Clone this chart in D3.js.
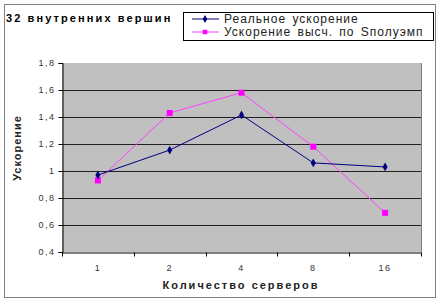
<!DOCTYPE html>
<html>
<head>
<meta charset="utf-8">
<script src="https://cdn.jsdelivr.net/npm/d3@7"></script>
<style>
  body { margin: 0; background: #fff; }
  text { font-family: Arial, "Liberation Sans", sans-serif; }
</style>
</head>
<body>
<svg id="chart" width="440" height="303"></svg>
<script>
// chart data
const servers = ["1", "2", "4", "8", "16"];
const realSpeedup = [0.97, 1.155, 1.415, 1.06, 1.03];
const estSpeedup = [0.93, 1.43, 1.58, 1.18, 0.69];
const yTicks = [0.4, 0.6, 0.8, 1.0, 1.2, 1.4, 1.6, 1.8];
const seriesNames = ["Реальное ускорение", "Ускорение высч. по Sполуэмп"];

const svg = d3.select("#chart");
const plot = { left: 62, right: 421, top: 63, bottom: 252 };

// outer frame
svg.append("rect")
  .attr("x", 4.5).attr("y", 4.5)
  .attr("width", 431).attr("height", 293)
  .attr("fill", "#fff").attr("stroke", "#808080");

const x = d3.scaleBand().domain(servers).range([plot.left, plot.right]);
const y = d3.scaleLinear().domain([0.4, 1.8]).range([plot.bottom, plot.top]);

// plot background
svg.append("rect")
  .attr("x", plot.left).attr("y", plot.top)
  .attr("width", plot.right - plot.left).attr("height", plot.bottom - plot.top)
  .attr("fill", "#c0c0c0");

// gridlines
svg.append("g")
  .selectAll("line")
  .data(yTicks.slice(1, -1))
  .enter()
  .append("line")
  .attr("x1", plot.left).attr("x2", plot.right)
  .attr("y1", d => Math.round(y(d)) + 0.5).attr("y2", d => Math.round(y(d)) + 0.5)
  .attr("stroke", "#202020").attr("stroke-width", 1);

// right border of plot
svg.append("line")
  .attr("x1", plot.right + 0.5).attr("x2", plot.right + 0.5)
  .attr("y1", plot.top).attr("y2", plot.bottom)
  .attr("stroke", "#808080");

// y axis
const yAxis = svg.append("g")
  .attr("transform", `translate(${plot.left + 0.5},0)`)
  .call(d3.axisLeft(y).tickValues(yTicks).tickSize(4)
    .tickFormat(d => d3.format(".1f")(d).replace(".", ",").replace(/,0$/, "")));
yAxis.select(".domain").attr("stroke", "#000");
yAxis.selectAll(".tick line").attr("stroke", "#000");
yAxis.selectAll(".tick text")
  .attr("x", -7)
  .attr("fill", "#333")
  .style("font-size", "9px")
  .style("letter-spacing", "1.5px");

// x axis
const xAxis = svg.append("g")
  .attr("transform", `translate(0,${plot.bottom + 0.5})`)
  .call(d3.axisBottom(x).tickSize(0).tickPadding(12));
xAxis.select(".domain").attr("stroke", "#000");
xAxis.selectAll(".tick text")
  .attr("fill", "#333")
  .style("font-size", "9px")
  .style("letter-spacing", "1.5px");
// ticks between categories
xAxis.selectAll("line.sep")
  .data(d3.range(servers.length + 1))
  .enter()
  .append("line")
  .attr("class", "sep")
  .attr("x1", i => Math.round(plot.left + i * x.step()) + 0.5)
  .attr("x2", i => Math.round(plot.left + i * x.step()) + 0.5)
  .attr("y1", 0).attr("y2", 4)
  .attr("stroke", "#000");

// series lines
const line = d3.line()
  .x((d, i) => x(servers[i]) + x.bandwidth() / 2)
  .y(d => y(d));

svg.append("path")
  .datum(estSpeedup)
  .attr("d", line)
  .attr("fill", "none")
  .attr("stroke", "#ff40ff")
  .attr("stroke-width", 1);

svg.append("path")
  .datum(realSpeedup)
  .attr("d", line)
  .attr("fill", "none")
  .attr("stroke", "#000080")
  .attr("stroke-width", 1);

// markers
svg.append("g")
  .selectAll("rect")
  .data(estSpeedup)
  .enter()
  .append("rect")
  .attr("x", (d, i) => x(servers[i]) + x.bandwidth() / 2 - 3)
  .attr("y", d => y(d) - 3)
  .attr("width", 6).attr("height", 6)
  .attr("fill", "#ff00ff");

svg.append("g")
  .selectAll("path")
  .data(realSpeedup)
  .enter()
  .append("path")
  .attr("d", d3.symbol().type(d3.symbolDiamond).size(22))
  .attr("transform", (d, i) => `translate(${x(servers[i]) + x.bandwidth() / 2},${y(d)})`)
  .attr("fill", "#000080");

// title
svg.append("text")
  .attr("x", 6).attr("y", 22)
  .style("font-size", "11px").style("font-weight", "bold")
  .style("letter-spacing", "2.1px")
  .text("32 внутренних вершин");

// axis titles
svg.append("text")
  .attr("transform", "translate(21,148) rotate(-90)")
  .attr("text-anchor", "middle")
  .style("font-size", "11px").style("font-weight", "bold")
  .style("letter-spacing", "1px")
  .attr("fill", "#222")
  .text("Ускорение");

svg.append("text")
  .attr("x", 241).attr("y", 289)
  .attr("text-anchor", "middle")
  .style("font-size", "11px").style("font-weight", "bold")
  .style("letter-spacing", "2px")
  .attr("fill", "#222")
  .text("Количество серверов");

// legend
const legend = svg.append("g");
legend.append("rect")
  .attr("x", 183.5).attr("y", 12.5)
  .attr("width", 250).attr("height", 28)
  .attr("fill", "#fff").attr("stroke", "#000");

const legendColors = ["#000080", "#ff00ff"];
const legendRows = legend.selectAll("g.row")
  .data(seriesNames)
  .enter()
  .append("g")
  .attr("class", "row")
  .attr("transform", (d, i) => `translate(0,${19 + i * 13})`);

legendRows.append("line")
  .attr("x1", 192).attr("x2", 219)
  .attr("stroke", (d, i) => i ? "#ff40ff" : "#000080");
legendRows.append("path")
  .attr("d", (d, i) => d3.symbol().type(i ? d3.symbolSquare : d3.symbolDiamond).size(i ? 20 : 18)())
  .attr("transform", "translate(205,0)")
  .attr("fill", (d, i) => legendColors[i]);
legendRows.append("text")
  .attr("x", 224).attr("dy", "0.35em")
  .style("font-size", "12px")
  .style("letter-spacing", "1px")
  .style("word-spacing", "2px")
  .attr("fill", "#222")
  .text(d => d);
</script>
</body>
</html>
